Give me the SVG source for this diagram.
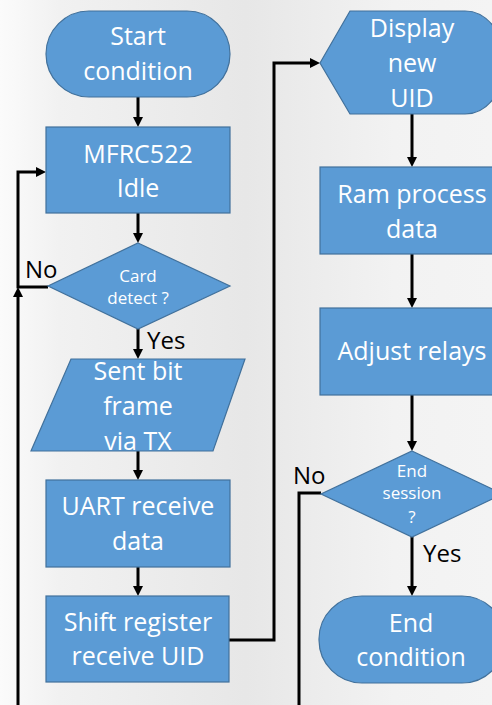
<svg xmlns="http://www.w3.org/2000/svg" width="492" height="705" viewBox="0 0 492 705">
<defs>
<linearGradient id="bg" x1="0" y1="0" x2="1" y2="0">
<stop offset="0" stop-color="#fbfbfb"/>
<stop offset="0.12" stop-color="#f1f1f1"/>
<stop offset="0.5" stop-color="#e7e7e7"/>
<stop offset="0.8" stop-color="#f2f2f2"/>
<stop offset="1" stop-color="#f4f4f4"/>
</linearGradient>
<marker id="ah" viewBox="0 0 10 10" refX="6" refY="5" markerWidth="10" markerHeight="10" markerUnits="userSpaceOnUse" orient="auto">
<path d="M0,0 L10,5 L0,10 Z" fill="#000"/>
</marker>
</defs>
<style>
.sh{fill:#5b9bd5;stroke:#41719c;stroke-width:1.2}
.t{font-family:"Open Sans","Liberation Sans",sans-serif;font-size:25px;fill:#ffffff;text-anchor:middle}
.s{font-family:"Open Sans","Liberation Sans",sans-serif;font-size:17px;fill:#ffffff;text-anchor:middle}
.l{font-family:"Open Sans","Liberation Sans",sans-serif;font-size:24px;fill:#000000}
.c{fill:none;stroke:#000;stroke-width:3}
</style>
<rect x="0" y="0" width="492" height="705" fill="url(#bg)"/>
<g id="connectors">
<path class="c" d="M138,97 V123" marker-end="url(#ah)"/>
<path class="c" d="M138,213 V239" marker-end="url(#ah)"/>
<path class="c" d="M138,329 V355" marker-end="url(#ah)"/>
<path class="c" d="M138,451 V476" marker-end="url(#ah)"/>
<path class="c" d="M138,567 V592" marker-end="url(#ah)"/>
<path class="c" d="M229,640 H274 V63 H316" marker-end="url(#ah)"/>
<path class="c" d="M412,114 V163" marker-end="url(#ah)"/>
<path class="c" d="M412,254 V304" marker-end="url(#ah)"/>
<path class="c" d="M412,395 V447" marker-end="url(#ah)"/>
<path class="c" d="M412,537 V592" marker-end="url(#ah)"/>
<path class="c" d="M321,493 H299 V705"/>
<path class="c" d="M18,705 V291" marker-end="url(#ah)"/>
<path class="c" d="M48,287 H18 V172 H42" marker-end="url(#ah)"/>
</g>
<g id="start">
<rect class="sh" x="46" y="11" width="184" height="86" rx="43" ry="43"/>
<text class="t" x="138" y="45">Start</text>
<text class="t" x="138" y="80">condition</text>
</g>
<g id="idle">
<rect class="sh" x="46" y="127" width="184" height="86"/>
<text class="t" x="138" y="163">MFRC522</text>
<text class="t" x="138" y="197">Idle</text>
</g>
<g id="card">
<path class="sh" d="M138,243 L230,286 L138,329 L48,286 Z"/>
<text class="s" x="138" y="282">Card</text>
<text class="s" x="138" y="304">detect ?</text>
</g>
<g id="sent">
<path class="sh" d="M71,359 L245,359 L213,451 L31,451 Z"/>
<text class="t" x="138" y="380">Sent bit</text>
<text class="t" x="138" y="415">frame</text>
<text class="t" x="138" y="450">via TX</text>
</g>
<g id="uart">
<rect class="sh" x="46" y="480" width="184" height="87"/>
<text class="t" x="138" y="515">UART receive</text>
<text class="t" x="138" y="550">data</text>
</g>
<g id="shift">
<rect class="sh" x="46" y="596" width="183" height="86"/>
<text class="t" x="138" y="631">Shift register</text>
<text class="t" x="138" y="665">receive UID</text>
</g>
<g id="display">
<path class="sh" d="M320,63 L350,11 L465,11 A40,51.5 0 0 1 465,114 L350,114 Z"/>
<text class="t" x="412" y="37">Display</text>
<text class="t" x="412" y="72">new</text>
<text class="t" x="412" y="107">UID</text>
</g>
<g id="ram">
<rect class="sh" x="320" y="167" width="184" height="87"/>
<text class="t" x="412" y="203">Ram process</text>
<text class="t" x="412" y="238">data</text>
</g>
<g id="adjust">
<rect class="sh" x="320" y="308" width="184" height="87"/>
<text class="t" x="412" y="360">Adjust relays</text>
</g>
<g id="endsession">
<path class="sh" d="M412,451 L503,494 L412,537 L321,494 Z"/>
<text class="s" x="412" y="477">End</text>
<text class="s" x="412" y="499">session</text>
<text class="s" x="412" y="523">?</text>
</g>
<g id="end">
<rect class="sh" x="319" y="596" width="186" height="87" rx="43" ry="43"/>
<text class="t" x="411" y="632">End</text>
<text class="t" x="411" y="666">condition</text>
</g>
<g id="labels">
<text class="l" x="25" y="278">No</text>
<text class="l" x="147" y="349">Yes</text>
<text class="l" x="293" y="484">No</text>
<text class="l" x="423" y="562">Yes</text>
</g>
</svg>
